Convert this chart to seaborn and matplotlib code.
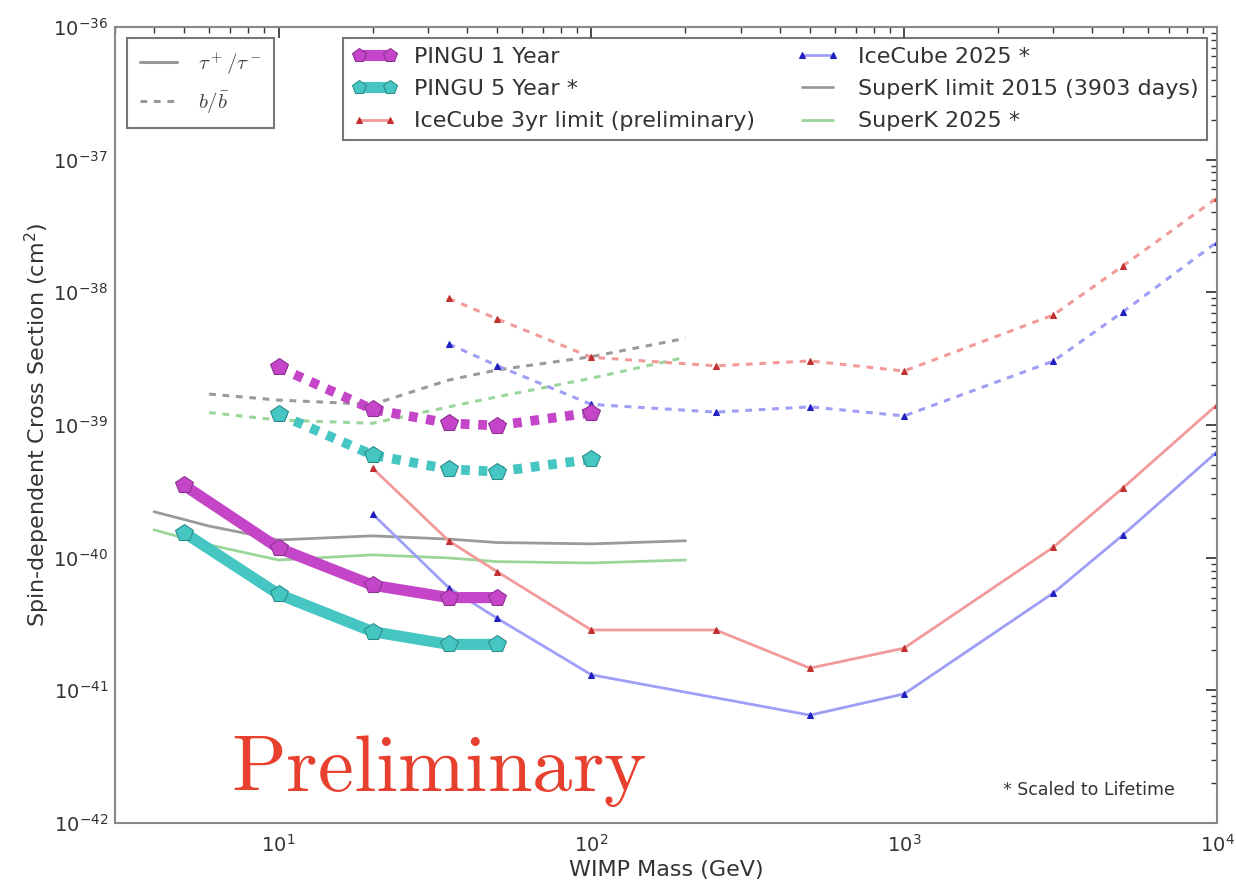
import numpy as np
import pandas as pd
import matplotlib
matplotlib.use("Agg")
import matplotlib.pyplot as plt
from matplotlib.font_manager import FontProperties
from matplotlib.lines import Line2D
import seaborn as sns

# WIMP masses (GeV)
pingu_mass = [5, 10, 20, 35, 50]
pingu_bb_mass = [10, 20, 35, 50, 100]
ic3_tau_mass = [20, 35, 50, 100, 250, 500, 1000, 3000, 5000, 10000]
ic3_bb_mass = [35, 50, 100, 250, 500, 1000, 3000, 5000, 10000]
ic25_tau_mass = [20, 35, 50, 100, 500, 1000, 3000, 5000, 10000]
ic25_bb_mass = [35, 50, 100, 250, 500, 1000, 3000, 5000, 10000]
sk_tau_mass = [4, 6, 10, 20, 35, 50, 100, 200]
sk_bb_mass = [6, 10, 20, 35, 50, 100, 200]

# cross sections (cm^2)
pingu1_tau = [3.5e-40, 1.18e-40, 6.2e-41, 5.0e-41, 5.0e-41]
pingu5_tau = [1.54e-40, 5.3e-41, 2.77e-41, 2.22e-41, 2.22e-41]
pingu1_bb = [2.72e-39, 1.31e-39, 1.03e-39, 9.9e-40, 1.24e-39]
pingu5_bb = [1.21e-39, 5.94e-40, 4.64e-40, 4.45e-40, 5.52e-40]
ic3_tau = [4.72e-40, 1.34e-40, 7.84e-41, 2.85e-41, 2.85e-41, 1.47e-41, 2.08e-41,
           1.2e-40, 3.35e-40, 1.42e-39]
ic3_bb = [9.0e-39, 6.3e-39, 3.24e-39, 2.79e-39, 3.04e-39, 2.55e-39, 6.75e-39,
          1.58e-38, 5.14e-38]
ic25_tau = [2.13e-40, 5.94e-41, 3.49e-41, 1.31e-41, 6.5e-42, 9.4e-42, 5.42e-41,
            1.48e-40, 6.27e-40]
ic25_bb = [4.08e-39, 2.8e-39, 1.43e-39, 1.25e-39, 1.37e-39, 1.17e-39, 3.03e-39,
           7.11e-39, 2.39e-38]
sk15_tau = [2.22e-40, 1.73e-40, 1.36e-40, 1.46e-40, 1.38e-40, 1.30e-40, 1.27e-40, 1.34e-40]
sk25_tau = [1.62e-40, 1.25e-40, 9.6e-41, 1.05e-40, 9.95e-41, 9.33e-41, 9.12e-41, 9.6e-41]
sk15_bb = [1.71e-39, 1.54e-39, 1.43e-39, 2.18e-39, 2.6e-39, 3.27e-39, 4.5e-39]
sk25_bb = [1.24e-39, 1.09e-39, 1.03e-39, 1.37e-39, 1.63e-39, 2.25e-39, 3.24e-39]

# axis ticks
x_ticks = [1e1, 1e2, 1e3, 1e4]
y_ticks = [1e-42, 1e-41, 1e-40, 1e-39, 1e-38, 1e-37, 1e-36]

sns.set_theme(style="white")
plt.rcParams['font.family'] = ['DejaVu Sans']
plt.rcParams['xtick.direction'] = 'in'
plt.rcParams['ytick.direction'] = 'in'

fig = plt.figure(figsize=(12.36, 8.84), dpi=100)
ax = fig.add_axes([0.093, 0.069, 0.8916, 0.9005])
ax.set_xscale('log')
ax.set_yscale('log')


def draw(mass, xs, color, ls, lw, marker=None, ms=0, alpha=1.0, mec=None, mfc=None, label=None):
    df = pd.DataFrame({'mass': mass, 'xs': xs})
    kw = dict(color=color, linestyle=ls, lw=lw, alpha=alpha)
    if marker:
        kw.update(marker=marker, markersize=ms, markeredgecolor=mec or color,
                  markerfacecolor=mfc or color)
    sns.lineplot(data=df, x='mass', y='xs', ax=ax, estimator=None, sort=False,
                 label=label, legend=False, **kw)


dash = (0, (2.2, 2.2))
grey = '#9a9a9a'
green = '#9ad69a'
# SuperK
draw(sk_tau_mass, sk15_tau, grey, '-', 2, label='SuperK limit 2015 (3903 days)')
draw(sk_tau_mass, sk25_tau, green, '-', 2, label='SuperK 2025 *')
draw(sk_bb_mass, sk15_bb, grey, dash, 2.2)
draw(sk_bb_mass, sk25_bb, green, dash, 2.2)

# IceCube
red_line, red_mk = '#f29a9a', '#c03030'
blue_line, blue_mk = '#9e9ef7', '#2020c0'
draw(ic3_tau_mass, ic3_tau, red_line, '-', 2, marker='^', ms=5, mec=red_mk, mfc=red_mk,
     label='IceCube 3yr limit (preliminary)')
draw(ic3_bb_mass, ic3_bb, red_line, dash, 2.2, marker='^', ms=5, mec=red_mk, mfc=red_mk)
draw(ic25_tau_mass, ic25_tau, blue_line, '-', 2, marker='^', ms=5, mec=blue_mk, mfc=blue_mk,
     label='IceCube 2025 *')
draw(ic25_bb_mass, ic25_bb, blue_line, dash, 2.2, marker='^', ms=5, mec=blue_mk, mfc=blue_mk)

# PINGU
mag = '#c445c8'
cyan = '#45c6c2'
draw(pingu_mass, pingu1_tau, mag, '-', 8, marker='p', ms=13, mec='#8a3090', label='PINGU 1 Year')
draw(pingu_mass, pingu5_tau, cyan, '-', 8, marker='p', ms=13, mec='#2a8a88', label='PINGU 5 Year *')
draw(pingu_bb_mass, pingu1_bb, mag, (0, (0.9, 0.9)), 7, marker='p', ms=13, mec='#8a3090')
draw(pingu_bb_mass, pingu5_bb, cyan, (0, (0.9, 0.9)), 7, marker='p', ms=13, mec='#2a8a88')

ax.set_xlim(3, 1e4)
ax.set_ylim(1e-42, 1e-36)
ax.xaxis.set_major_locator(matplotlib.ticker.FixedLocator(x_ticks))
ax.yaxis.set_major_locator(matplotlib.ticker.FixedLocator(y_ticks))
ax.xaxis.set_major_formatter(matplotlib.ticker.LogFormatterSciNotation())
ax.yaxis.set_major_formatter(matplotlib.ticker.LogFormatterSciNotation())
ax.yaxis.set_minor_locator(matplotlib.ticker.LogLocator(base=10, subs=np.arange(2, 10), numticks=20))
ax.xaxis.set_minor_formatter(matplotlib.ticker.NullFormatter())
ax.yaxis.set_minor_formatter(matplotlib.ticker.NullFormatter())
ax.set_xlabel('WIMP Mass (GeV)', fontsize=16, color='#333333', labelpad=3)
ax.set_ylabel('Spin-dependent Cross Section (cm$^2$)', fontsize=16, color='#333333', labelpad=1)
ax.tick_params(which='both', direction='in', labelsize=14, colors='#333333', top=True, right=True)
ax.tick_params(which='major', length=8)
ax.tick_params(axis='x', which='major', pad=8)
ax.tick_params(axis='y', which='major', pad=5)
ax.tick_params(which='minor', length=4)
for s in ax.spines.values():
    s.set_color('#888888')
    s.set_linewidth(1.5)

# channel legend
h1 = [Line2D([], [], color=grey, lw=2.2), Line2D([], [], color=grey, lw=2.2, ls=dash)]
leg1 = ax.legend(h1, [r'$\tau^+/\tau^-$', r'$b/\bar{b}$'], loc='upper left',
                 bbox_to_anchor=(0.011, 0.986), borderaxespad=0, fancybox=False,
                 edgecolor='#555555', prop=FontProperties(size=15, math_fontfamily='cm'),
                 handlelength=1.8, borderpad=0.6, labelspacing=0.6, handletextpad=1.0)
leg1.get_frame().set_linewidth(1.5)
for t in leg1.get_texts():
    t.set_color('#444444')
ax.add_artist(leg1)

# experiment legend
hl, ll = ax.get_legend_handles_labels()
order = ['PINGU 1 Year', 'PINGU 5 Year *', 'IceCube 3yr limit (preliminary)',
         'IceCube 2025 *', 'SuperK limit 2015 (3903 days)', 'SuperK 2025 *']
hmap = dict(zip(ll, hl))
leg2 = ax.legend([hmap[k] for k in order], order, loc='upper right', ncol=2,
                 bbox_to_anchor=(0.991, 0.986), borderaxespad=0, fancybox=False,
                 edgecolor='#555555', fontsize=16, numpoints=2, markerscale=0.8,
                 handlelength=2.0, columnspacing=1.8, borderpad=0.4, labelspacing=0.55,
                 handletextpad=0.8)
leg2.get_frame().set_linewidth(1.5)
for t in leg2.get_texts():
    t.set_color('#333333')

ax.text(0.105, 0.04, r'$\mathrm{Preliminary}$', transform=ax.transAxes, fontsize=58,
        color='#e8402f', math_fontfamily='cm')
ax.text(0.806, 0.035, '* Scaled to Lifetime', transform=ax.transAxes, fontsize=12.5,
        color='#333333')

fig.savefig('out.png', dpi=100)
